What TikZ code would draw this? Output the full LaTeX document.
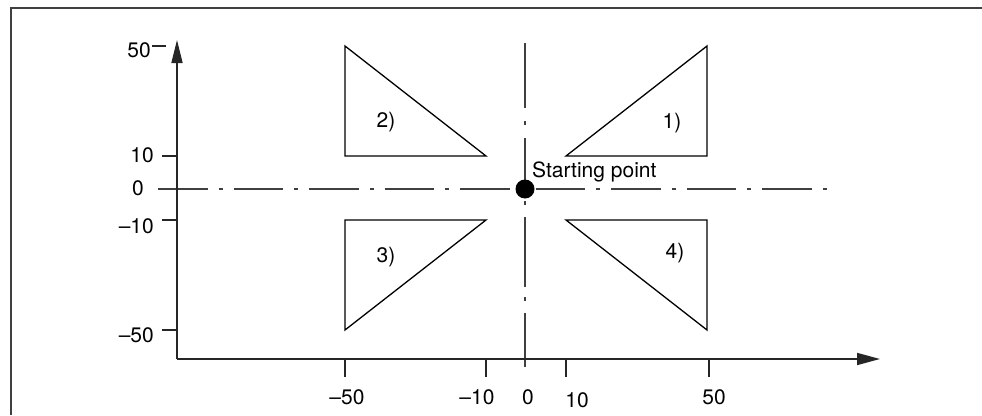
\documentclass[tikz,border=0pt]{standalone}
\usepackage{fontspec}
\setmainfont{TeX Gyre Heros}
\usetikzlibrary{arrows.meta}
\begin{document}
\begin{tikzpicture}[x=1pt,y=-1pt,
  lbl/.style={inner sep=0pt,font=\fontsize{21}{25}\selectfont},
  axis/.style={line width=1.6pt,draw=black!85},
  tick/.style={line width=1.4pt,draw=black!85},
  tri/.style={line width=1.3pt,draw=black},
  centerline/.style={line width=1.5pt,draw=black!75},
  frameline/.style={line width=2pt,draw=black!75}]
\useasboundingbox (0,0) rectangle (982,415);
% frame
\draw[frameline] (982,7.5) -- (11,7.5) -- (11,415);
% coordinates
\coordinate (O) at (177,359);
\coordinate (Xend) at (880,359);
\coordinate (Yend) at (177,40);
% centre lines
\coordinate (H1) at (158,189);
\coordinate (H2) at (827,189);
\coordinate (V1) at (525,43);
\coordinate (V2) at (525,367);
\draw[centerline,dash pattern=on 49.5pt off 11pt on 4pt off 11pt] (H1) -- (H2);
\draw[centerline,dash pattern=on 65pt off 13pt on 4pt off 13pt] (V1) -- (525,189);
\draw[centerline,dash pattern=on 70pt off 10pt on 4pt off 12pt,dash phase=68pt] (525,189) -- (V2);
% axes
\draw[axis,-{Triangle[length=23pt,width=11pt]}] (O) -- (Yend);
\draw[axis,-{Triangle[length=23pt,width=12pt]}] (O) -- (Xend);
% y ticks
\draw[tick] (152,46) -- (166,46);
\draw[tick] (162,156) -- (177,156);
\draw[tick] (162,220) -- (177,220);
\draw[tick] (162,330) -- (177,330);
% x ticks
\draw[tick] (345,359) -- (345,377);
\draw[tick] (486,359) -- (486,377);
\draw[tick] (566,359) -- (566,377);
\draw[tick] (709,359) -- (709,377);
% y labels
\node[lbl,anchor=base east] (ly50) at (151,57) {50};
\node[lbl,anchor=base east] (ly10) at (154,162) {10};
\node[lbl,anchor=base east] (ly0) at (144,195) {0};
\node[lbl,anchor=base east] (lym10) at (154,233) {–10};
\node[lbl,anchor=base east] (lym50) at (154,342) {–50};
% x labels
\node[lbl,anchor=base] (lxm50) at (347,404) {–50};
\node[lbl,anchor=base] (lxm10) at (477,404) {–10};
\node[lbl,anchor=base] (lx0) at (528,404) {0};
\node[lbl,anchor=base] (lx10) at (577,407) {10};
\node[lbl,anchor=base] (lx50) at (714,404) {50};
% triangles
\draw[tri] (566,156) -- (707,156) -- (707,46) -- cycle;
\draw[tri] (345,46) -- (345,156) -- (486,156) -- cycle;
\draw[tri] (345,220) -- (486,220) -- (345,330) -- cycle;
\draw[tri] (566,220) -- (707,220) -- (707,330) -- cycle;
\node[lbl] (t1) at (672,123) {1)};
\node[lbl] (t2) at (386,122) {2)};
\node[lbl] (t3) at (386,257) {3)};
\node[lbl] (t4) at (675,253) {4)};
% starting point
\node[circle,fill=black,inner sep=0pt,minimum size=19pt] (sp) at (525,189) {};
\node[lbl,anchor=base west] (spl) at (532,177) {Starting point};
\end{tikzpicture}
\end{document}
